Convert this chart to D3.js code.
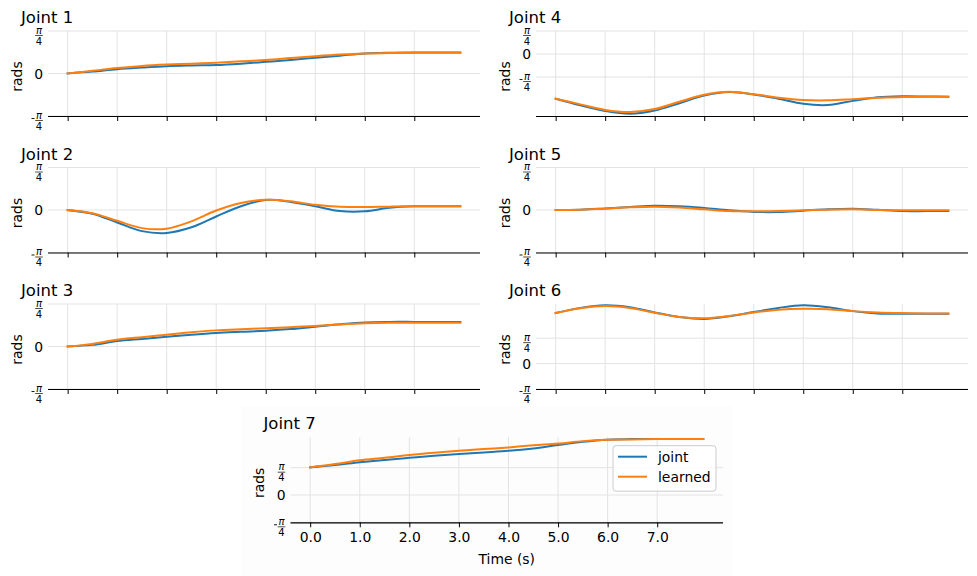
<!DOCTYPE html>
<html>
<head>
<meta charset="utf-8">
<script src="https://cdn.jsdelivr.net/npm/d3@7"></script>
<style>
  body { margin: 0; background: #fff; }
  svg { display: block; font-family: "DejaVu Sans", sans-serif; }
</style>
</head>
<body>
<svg id="chart" width="977" height="576"></svg>
<script>
// ---------------- DATA ----------------
const times = [0, 0.5, 1, 1.5, 2, 2.5, 3, 3.5, 4, 4.5, 5, 5.5, 6, 6.5, 7, 7.5, 7.93];
const xTicks = [0, 1, 2, 3, 4, 5, 6, 7];
const xTickLabels = ["0.0", "1.0", "2.0", "3.0", "4.0", "5.0", "6.0", "7.0"];
const yTicks = [-Math.PI / 4, 0, Math.PI / 4];
const seriesNames = ["joint", "learned"];
const jointNames = ["Joint 1", "Joint 2", "Joint 3", "Joint 4", "Joint 5", "Joint 6", "Joint 7"];

const joint1Actual  = [0, 0.035, 0.08, 0.11, 0.135, 0.148, 0.157, 0.182, 0.215, 0.25, 0.29, 0.33, 0.37, 0.385, 0.39, 0.39, 0.39];
const joint1Learned = [0, 0.05, 0.10, 0.14, 0.165, 0.182, 0.20, 0.225, 0.25, 0.285, 0.32, 0.35, 0.37, 0.38, 0.385, 0.385, 0.385];

const joint2Actual  = [0, -0.07, -0.23, -0.39, -0.425, -0.32, -0.12, 0.07, 0.185, 0.15, 0.07, -0.02, -0.025, 0.04, 0.067, 0.067, 0.067];
const joint2Learned = [0, -0.06, -0.20, -0.335, -0.345, -0.21, -0.01, 0.13, 0.19, 0.16, 0.095, 0.06, 0.055, 0.062, 0.067, 0.067, 0.067];

const joint3Actual  = [0, 0.03, 0.10, 0.14, 0.18, 0.218, 0.25, 0.272, 0.292, 0.322, 0.365, 0.41, 0.445, 0.455, 0.455, 0.455, 0.455];
const joint3Learned = [0, 0.048, 0.124, 0.172, 0.216, 0.262, 0.298, 0.32, 0.338, 0.358, 0.38, 0.408, 0.43, 0.44, 0.44, 0.44, 0.44];

const joint4Actual  = [-1.525, -1.75, -1.945, -2.04, -1.93, -1.68, -1.42, -1.30, -1.38, -1.53, -1.70, -1.74, -1.60, -1.48, -1.445, -1.45, -1.455];
const joint4Learned = [-1.525, -1.72, -1.91, -1.98, -1.88, -1.63, -1.39, -1.29, -1.37, -1.49, -1.57, -1.58, -1.54, -1.49, -1.47, -1.46, -1.455];

const joint5Actual  = [0, 0.006, 0.03, 0.056, 0.08, 0.07, 0.037, -0.006, -0.035, -0.037, -0.012, 0.014, 0.025, 0.004, -0.02, -0.02, -0.02];
const joint5Learned = [0, 0.006, 0.025, 0.05, 0.062, 0.044, 0.012, -0.019, -0.025, -0.019, -0.006, 0.006, 0.012, 0.002, -0.006, -0.006, -0.006];

const joint6Actual  = [1.56, 1.72, 1.80, 1.74, 1.58, 1.44, 1.38, 1.46, 1.59, 1.72, 1.80, 1.74, 1.62, 1.55, 1.54, 1.54, 1.54];
const joint6Learned = [1.56, 1.71, 1.78, 1.72, 1.57, 1.44, 1.40, 1.47, 1.58, 1.66, 1.69, 1.68, 1.62, 1.58, 1.56, 1.55, 1.55];

const joint7Actual  = [0.795, 0.86, 0.94, 1.01, 1.07, 1.13, 1.18, 1.225, 1.27, 1.34, 1.44, 1.53, 1.59, 1.61, 1.61, 1.61, 1.61];
const joint7Learned = [0.795, 0.89, 1.00, 1.07, 1.15, 1.215, 1.27, 1.32, 1.37, 1.43, 1.48, 1.55, 1.59, 1.60, 1.61, 1.61, 1.61];

// y-limits per joint (radians)
const yMin = [-Math.PI / 4, -Math.PI / 4, -Math.PI / 4, -2.116, -Math.PI / 4, -Math.PI / 4, -Math.PI / 4];
const yMax = [Math.PI / 4, Math.PI / 4, Math.PI / 4, Math.PI / 4, Math.PI / 4, 1.84, 1.66];
const xDomain = [-0.397, 8.327];

const actual = [joint1Actual, joint2Actual, joint3Actual, joint4Actual, joint5Actual, joint6Actual, joint7Actual];
const learned = [joint1Learned, joint2Learned, joint3Learned, joint4Learned, joint5Learned, joint6Learned, joint7Learned];

// ---------------- LAYOUT ----------------
const colors = ["#1f77b4", "#ff7f0e"];
const panelH = 85;
const panels = [
  { left: 48,    top: 31,    width: 432 },
  { left: 48,    top: 167.5, width: 432 },
  { left: 48,    top: 304,   width: 432 },
  { left: 536,   top: 31,    width: 432 },
  { left: 536,   top: 167.5, width: 432 },
  { left: 536,   top: 304,   width: 432 },
  { left: 290.5, top: 437.3, width: 432.5 }
];

const svg = d3.select("#chart");

// faint background behind the last subplot
svg.append("rect").attr("x", 242).attr("y", 406).attr("width", 491).attr("height", 170)
  .attr("fill", "#fdfdfd");

panels.forEach((p, i) => {
  const g = svg.append("g").attr("transform", `translate(${p.left},${p.top})`);
  const x = d3.scaleLinear().domain(xDomain).range([0, p.width]);
  const y = d3.scaleLinear().domain([yMin[i], yMax[i]]).range([panelH, 0]);

  // grid
  g.append("g").selectAll("line").data(xTicks).join("line")
    .attr("x1", d => x(d)).attr("x2", d => x(d))
    .attr("y1", 0).attr("y2", panelH)
    .attr("stroke", "#e3e3e3").attr("stroke-width", 1);
  g.append("g").selectAll("line").data(yTicks).join("line")
    .attr("x1", 0).attr("x2", p.width)
    .attr("y1", d => y(d)).attr("y2", d => y(d))
    .attr("stroke", "#e3e3e3").attr("stroke-width", 1);

  // x axis
  const xAxis = d3.axisBottom(x).tickValues(xTicks).tickSize(5).tickPadding(5)
    .tickFormat((d, k) => i === 6 ? xTickLabels[k] : "");
  const xa = g.append("g").attr("transform", `translate(0,${panelH})`).call(xAxis);
  xa.select(".domain").attr("stroke", "#000").attr("stroke-width", 1.2).attr("d", `M0,0.5H${p.width}`);
  xa.selectAll(".tick line").attr("stroke", "#000").attr("stroke-width", 1);
  xa.selectAll(".tick text").attr("font-size", "13.9px").attr("fill", "#000")
    .attr("font-family", "DejaVu Sans, sans-serif");

  // y tick labels (pi fractions)
  yTicks.forEach(v => {
    const ty = y(v);
    const lg = g.append("g").attr("transform", `translate(0,${ty})`);
    if (Math.abs(v) < 1e-9) {
      lg.append("text").attr("x", -5).attr("y", 0).attr("dy", "0.36em")
        .attr("text-anchor", "end").attr("font-size", "13.9px").text("0");
    } else {
      const cx = -9;
      const t = lg.append("text").attr("font-size", "10px").attr("text-anchor", "middle");
      t.append("tspan").attr("x", cx).attr("y", 2.5).attr("font-style", "italic").text("π");
      t.append("tspan").attr("x", cx).attr("y", 13.5).text("4");
      lg.append("line").attr("x1", cx - 3.8).attr("x2", cx + 3.8).attr("y1", 4.5).attr("y2", 4.5)
        .attr("stroke", "#000").attr("stroke-width", 0.7);
      if (v < 0) {
        lg.append("line").attr("x1", cx - 7.5).attr("x2", cx - 4.5).attr("y1", 2.5).attr("y2", 2.5)
          .attr("stroke", "#000").attr("stroke-width", 0.9);
      }
    }
  });

  // y label
  g.append("text").attr("transform", `translate(-31,${panelH / 2 + 3}) rotate(-90)`)
    .attr("text-anchor", "middle").attr("dy", "0.35em").attr("font-size", "13.9px").text("rads");

  // title
  g.append("text").attr("x", -27).attr("y", -8).attr("font-size", "16.5px").text(jointNames[i]);

  // lines
  const line = d3.line().x((d, k) => x(times[k])).y(d => y(d)).curve(d3.curveCatmullRom.alpha(0.5));
  [actual[i], learned[i]].forEach((s, si) => {
    g.append("path").datum(s).attr("d", line)
      .attr("fill", "none").attr("stroke", colors[si]).attr("stroke-width", 2)
      .attr("stroke-linecap", "square");
  });

  if (i === 6) {
    // x label
    g.append("text").attr("x", p.width / 2).attr("y", panelH + 41.5).attr("text-anchor", "middle")
      .attr("font-size", "13.9px").text("Time (s)");
    // legend
    const lgX = 613 - p.left, lgY = 445.7 - p.top;
    const leg = g.append("g").attr("transform", `translate(${lgX},${lgY})`);
    leg.append("rect").attr("width", 103).attr("height", 45.5).attr("rx", 3)
      .attr("fill", "#fff").attr("fill-opacity", 0.8).attr("stroke", "#cccccc").attr("stroke-width", 1);
    seriesNames.forEach((n, si) => {
      const ly = 11 + si * 20;
      leg.append("line").attr("x1", 5).attr("x2", 34).attr("y1", ly).attr("y2", ly)
        .attr("stroke", colors[si]).attr("stroke-width", 2);
      leg.append("text").attr("x", 45).attr("y", ly).attr("dy", "0.35em")
        .attr("font-size", "13.9px").text(n);
    });
  }
});
</script>
</body>
</html>
